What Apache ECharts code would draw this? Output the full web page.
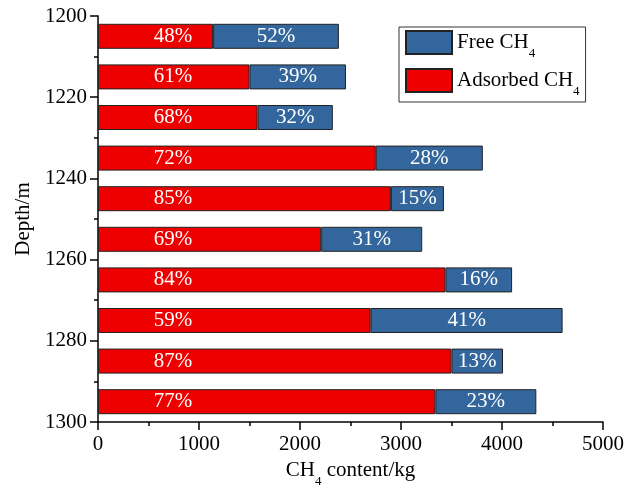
<!DOCTYPE html>
<html>
<head>
<meta charset="utf-8">
<script src="https://cdn.jsdelivr.net/npm/echarts@6/dist/echarts.min.js"></script>
<style>
  html, body { margin: 0; padding: 0; background: #fff; }
  #chart { width: 638px; height: 488px; }
</style>
</head>
<body>
<div id="chart"></div>
<script>
// Depth intervals (bar centers, m)
const depths = [1205, 1215, 1225, 1235, 1245, 1255, 1265, 1275, 1285, 1295];
// CH4 content, kg
const adsorbed = [1140, 1500, 1580, 2750, 2900, 2210, 3440, 2700, 3500, 3340];
const free = [1245, 955, 745, 1060, 525, 1000, 660, 1900, 510, 1000];
// Printed percentage labels
const adsorbedPct = ['48%', '61%', '68%', '72%', '85%', '69%', '84%', '59%', '87%', '77%'];
const freePct = ['52%', '39%', '32%', '28%', '15%', '31%', '16%', '41%', '13%', '23%'];

const FONT = '"Liberation Serif", "Times New Roman", serif';
const FS = 21;

// rich styles for CH4 with subscript
const richCH4 = {
    a: { fontFamily: FONT, fontSize: FS, color: '#000' },
    s: { fontFamily: FONT, fontSize: 13, color: '#000', verticalAlign: 'bottom', padding: [0, 0, -7, 0] }
};

const chart = echarts.init(document.getElementById('chart'));

const axisCommon = {
    axisLine: { show: true, lineStyle: { color: '#000', width: 1.5 } },
    axisTick: { show: true, length: 8, lineStyle: { color: '#000', width: 1.5 } },
    minorTick: { show: true, splitNumber: 2, length: 4, lineStyle: { color: '#000', width: 1.5 } },
    splitLine: { show: false }
};

const option = {
    backgroundColor: '#fff',
    animation: false,
    textStyle: { fontFamily: FONT },
    grid: { left: 98, right: 35, top: 16, bottom: 66, containLabel: false, outerBoundsMode: 'none' },
    legend: {
        data: ['Free', 'Adsorbed'],
        orient: 'vertical',
        left: 399,
        top: 27,
        padding: [3, 6, 4, 6],
        itemWidth: 46,
        itemHeight: 23,
        itemGap: 8,
        icon: 'rect',
        borderColor: '#333',
        borderWidth: 1,
        formatter: name => '{a|' + name + ' CH}{s|4}',
        textStyle: { rich: richCH4 }
    },
    xAxis: Object.assign({
        type: 'value',
        min: 0,
        max: 5000,
        interval: 1000,
        name: '{a|CH}{s|4}{a| content/kg}',
        nameLocation: 'middle',
        nameGap: 35,
        nameTextStyle: { rich: richCH4 },
        axisLabel: { color: '#000', fontSize: FS, fontFamily: FONT, margin: 12, formatter: v => String(v) }
    }, axisCommon),
    yAxis: [
        {
            type: 'category',
            data: depths,
            inverse: true,
            show: false
        },
        Object.assign({
            type: 'value',
            min: 1200,
            max: 1300,
            interval: 20,
            inverse: true,
            position: 'left',
            name: 'Depth/m',
            nameLocation: 'middle',
            nameGap: 53,
            nameTextStyle: { color: '#000', fontSize: FS, fontFamily: FONT },
            axisLabel: { color: '#000', fontSize: FS, fontFamily: FONT, margin: 11, formatter: v => String(v) }
        }, axisCommon)
    ],
    series: [
        {
            name: 'Adsorbed',
            type: 'bar',
            stack: 'ch4',
            yAxisIndex: 0,
            barWidth: 25,
            data: adsorbed,
            itemStyle: { color: '#ee0000', borderColor: '#222', borderWidth: 1 },
            label: {
                show: true,
                position: [75, '50%'],
                align: 'center',
                verticalAlign: 'middle',
                color: '#fff',
                fontSize: FS,
                fontFamily: FONT,
                formatter: p => adsorbedPct[p.dataIndex]
            }
        },
        {
            name: 'Free',
            type: 'bar',
            stack: 'ch4',
            yAxisIndex: 0,
            barWidth: 25,
            data: free,
            itemStyle: { color: '#33669c', borderColor: '#222', borderWidth: 1 },
            label: {
                show: true,
                position: 'inside',
                color: '#fff',
                fontSize: FS,
                fontFamily: FONT,
                formatter: p => freePct[p.dataIndex]
            }
        }
    ]
};

chart.setOption(option);
</script>
</body>
</html>
